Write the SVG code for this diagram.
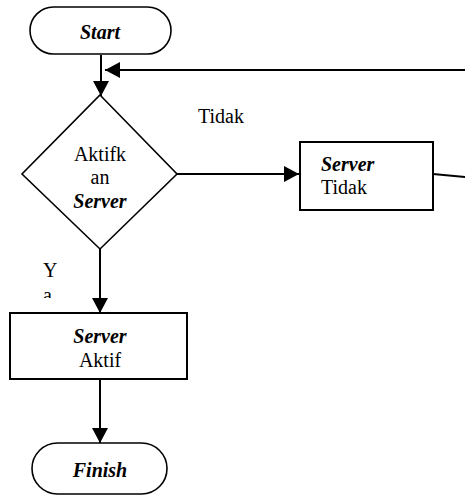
<svg xmlns="http://www.w3.org/2000/svg" width="465" height="497" viewBox="0 0 465 497">
  <style>
    .shape { fill: #ffffff; stroke: #000000; stroke-width: 1.6; }
    .box { fill: #ffffff; stroke: #000000; stroke-width: 2; }
    .line { fill: none; stroke: #000000; stroke-width: 2; }
    text { font-family: "Liberation Serif", "Times New Roman", serif; font-size: 20px; fill: #000000; }
    .bi { font-weight: bold; font-style: italic; }
    .mid { text-anchor: middle; }
  </style>
  <defs>
    <marker id="arrow" markerWidth="15" markerHeight="16" refX="15" refY="8" orient="auto" markerUnits="userSpaceOnUse">
      <path d="M0,0 L15,8 L0,16 Z" fill="#000000"/>
    </marker>
    <clipPath id="clipYa">
      <rect x="30" y="255" width="40" height="43"/>
    </clipPath>
  </defs>

  <!-- connectors -->
  <g id="connectors">
    <line class="line" x1="101" y1="55" x2="101" y2="96" marker-end="url(#arrow)"/>
    <line class="line" x1="465" y1="70" x2="105" y2="70" marker-end="url(#arrow)"/>
    <line class="line" x1="177" y1="174" x2="299" y2="174" marker-end="url(#arrow)"/>
    <line class="line" x1="433" y1="174" x2="465" y2="177"/>
    <line class="line" x1="100" y1="249" x2="100" y2="313" marker-end="url(#arrow)"/>
    <line class="line" x1="100" y1="379" x2="100" y2="443" marker-end="url(#arrow)"/>
    <text x="198" y="123">Tidak</text>
    <g clip-path="url(#clipYa)">
      <text x="43" y="277">Y</text>
      <text x="43" y="302">a</text>
    </g>
  </g>

  <g id="start">
    <rect class="shape" x="30" y="7" width="141" height="47" rx="23.5" ry="23.5"/>
    <text class="bi mid" x="100" y="39">Start</text>
  </g>

  <g id="decision">
    <polygon class="shape" points="100,95 177,174 100,249 22,174"/>
    <text class="mid" x="100" y="161">Aktifk</text>
    <text class="mid" x="100" y="184">an</text>
    <text class="bi mid" x="100" y="208">Server</text>
  </g>

  <g id="server-tidak">
    <rect class="box" x="300" y="142" width="133" height="68"/>
    <text class="bi" x="321" y="171">Server</text>
    <text x="321" y="194">Tidak</text>
  </g>

  <g id="server-aktif">
    <rect class="box" x="10" y="313" width="177" height="66"/>
    <text class="bi mid" x="100" y="343">Server</text>
    <text class="mid" x="100" y="367">Aktif</text>
  </g>

  <g id="finish">
    <rect class="shape" x="32" y="443" width="135" height="51" rx="25.5" ry="25.5"/>
    <text class="bi mid" x="100" y="477">Finish</text>
  </g>
</svg>
